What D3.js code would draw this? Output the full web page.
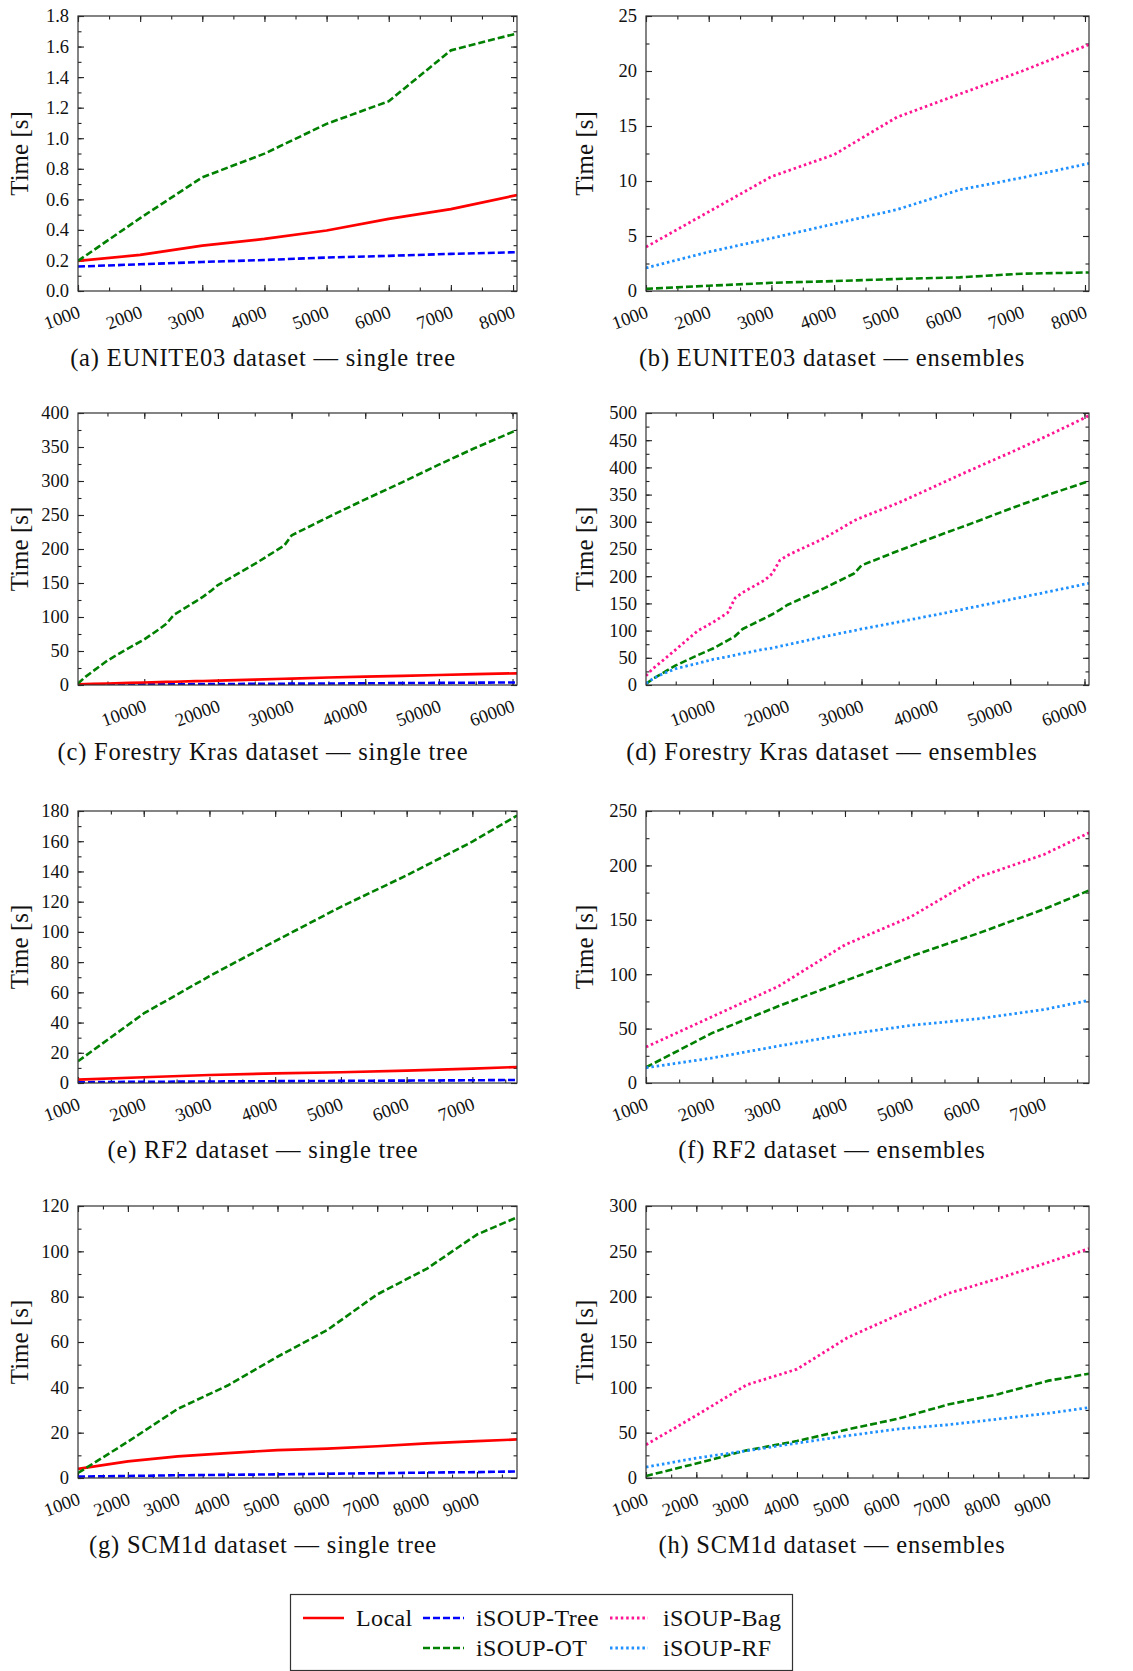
<!DOCTYPE html>
<html>
<head>
<meta charset="utf-8">
<script src="https://cdn.jsdelivr.net/npm/d3@7"></script>
<style>
  body { margin: 0; background: #fff; }
  svg { display: block; }
  text { font-family: "Liberation Serif", "DejaVu Serif", serif; fill: #111; }
</style>
</head>
<body>
<div id="chart"></div>
<script>
// ---- data ----
const seriesNames = ['Local', 'iSOUP-Tree', 'iSOUP-OT', 'iSOUP-Bag', 'iSOUP-RF'];

// EUNITE03
const euniteX     = [1000, 2000, 3000, 4000, 5000, 6000, 7000, 8064];
const euniteLocal = [0.197, 0.236, 0.297, 0.341, 0.396, 0.472, 0.536, 0.628];
const euniteTree  = [0.160, 0.175, 0.190, 0.203, 0.219, 0.230, 0.243, 0.254];
const euniteOT    = [0.197, 0.477, 0.744, 0.899, 1.094, 1.242, 1.575, 1.686];
const euniteBag   = [4.0, 7.2, 10.4, 12.4, 15.8, 17.9, 20.0, 22.4];
const euniteRF    = [2.1, 3.55, 4.8, 6.1, 7.4, 9.2, 10.3, 11.6];

// Forestry Kras
const krasX     = [1000, 2000, 3000, 5000, 8000, 10000, 12000, 13000, 14000, 17000, 18000, 19000, 20000, 25000, 29000, 30000, 35000, 40000, 45000, 50000, 55000, 60607];
const krasLocal = [1, 1.3, 1.6, 2.2, 3.1, 3.7, 4.2, 4.5, 4.8, 5.6, 5.9, 6.2, 6.5, 8, 9.2, 9.5, 11, 12.3, 13.5, 14.7, 15.9, 17.2];
const krasTree  = [0.3, 0.4, 0.5, 0.6, 0.8, 0.9, 1.0, 1.05, 1.1, 1.25, 1.3, 1.35, 1.4, 1.7, 1.9, 2.0, 2.2, 2.5, 2.8, 3.1, 3.4, 3.8];
const krasOT    = [2, 12, 20, 36, 55, 67, 82, 90, 103, 123, 130, 138, 147, 178, 205, 220, 247, 273, 298, 324, 349, 375];
const krasBag   = [17, 31, 42, 65, 100, 115, 133, 160, 170, 193, 205, 229, 238, 270, 302, 308, 335, 366, 397, 427, 458, 495];
const krasRF    = [3, 12, 19, 30, 40, 47, 52, 55, 58, 66, 68, 71, 74, 89, 100, 103, 116, 129, 143, 157, 171, 187];

// RF2
const rf2X     = [1000, 2000, 3000, 4000, 5000, 6000, 7000, 7679];
const rf2Local = [2.2, 3.8, 5.3, 6.4, 7.1, 8.2, 9.5, 10.6];
const rf2Tree  = [0.5, 0.8, 1.0, 1.2, 1.4, 1.6, 1.8, 2.0];
const rf2OT    = [14.4, 46, 70.7, 93.9, 116.6, 137.4, 159.7, 177];
const rf2Bag   = [33, 61, 89, 127, 153, 189, 210, 230];
const rf2RF    = [14, 23, 34, 44.5, 53, 59, 67.5, 76];

// SCM1d
const scmX     = [1000, 2000, 3000, 4000, 5000, 6000, 7000, 8000, 9000, 9803];
const scmLocal = [4, 7.3, 9.5, 11, 12.3, 13, 14, 15.3, 16.3, 17];
const scmTree  = [0.6, 0.9, 1.2, 1.4, 1.6, 1.9, 2.1, 2.4, 2.6, 2.9];
const scmOT    = [2.2, 16, 30.5, 40.8, 53.5, 65.3, 81, 92.4, 107.4, 115];
const scmBag   = [36.7, 69, 102.7, 120, 154.7, 179.7, 203.5, 220, 238, 253];
const scmRF    = [12, 22, 30, 38.5, 46.6, 54, 58.7, 65, 71.5, 77.7];

// tick labels
const euniteXTicks = [1000, 2000, 3000, 4000, 5000, 6000, 7000, 8000];
const krasXTicks   = [10000, 20000, 30000, 40000, 50000, 60000];
const rf2XTicks    = [1000, 2000, 3000, 4000, 5000, 6000, 7000];
const scmXTicks    = [1000, 2000, 3000, 4000, 5000, 6000, 7000, 8000, 9000];

const captions = [
  '(a) EUNITE03 dataset \u2014 single tree', '(b) EUNITE03 dataset \u2014 ensembles',
  '(c) Forestry Kras dataset \u2014 single tree', '(d) Forestry Kras dataset \u2014 ensembles',
  '(e) RF2 dataset \u2014 single tree', '(f) RF2 dataset \u2014 ensembles',
  '(g) SCM1d dataset \u2014 single tree', '(h) SCM1d dataset \u2014 ensembles'
];

// ---- styles ----
const styles = {
  'Local':      { color: '#ff0000', dash: null, width: 2.7 },
  'iSOUP-Tree': { color: '#0000ff', dash: '7,3', width: 2.6 },
  'iSOUP-OT':   { color: '#008000', dash: '7,3', width: 2.6 },
  'iSOUP-Bag':  { color: '#ff1493', dash: '2.5,2.9', width: 2.8 },
  'iSOUP-RF':   { color: '#1e90ff', dash: '2.5,2.9', width: 2.8 }
};

const W = 1133, H = 1671;
const FONT = '"Liberation Serif", serif';
const leftCol = { x0: 78, x1: 517 };
const rightCol = { x0: 646, x1: 1089 };
const rows = [
  { y0: 16, y1: 291 },
  { y0: 413, y1: 685 },
  { y0: 811, y1: 1083 },
  { y0: 1206, y1: 1478 }
];

const panels = [
  { x: euniteX, xMax: 8064, xTicks: euniteXTicks, xMinor: 500, yMax: 1.8, yStep: 0.2, yMinor: 0.1, fmt: d3.format('.1f'),
    lines: [['iSOUP-Tree', euniteTree], ['Local', euniteLocal], ['iSOUP-OT', euniteOT]] },
  { x: euniteX, xMax: 8064, xTicks: euniteXTicks, xMinor: 500, yMax: 25, yStep: 5, yMinor: 2.5, fmt: d3.format('d'),
    lines: [['iSOUP-OT', euniteOT], ['iSOUP-RF', euniteRF], ['iSOUP-Bag', euniteBag]] },
  { x: krasX, xMax: 60607, xTicks: krasXTicks, xMinor: 5000, yMax: 400, yStep: 50, yMinor: 25, fmt: d3.format('d'),
    lines: [['iSOUP-Tree', krasTree], ['Local', krasLocal], ['iSOUP-OT', krasOT]] },
  { x: krasX, xMax: 60607, xTicks: krasXTicks, xMinor: 5000, yMax: 500, yStep: 50, yMinor: 25, fmt: d3.format('d'),
    lines: [['iSOUP-OT', krasOT], ['iSOUP-RF', krasRF], ['iSOUP-Bag', krasBag]] },
  { x: rf2X, xMax: 7679, xTicks: rf2XTicks, xMinor: 500, yMax: 180, yStep: 20, yMinor: 10, fmt: d3.format('d'),
    lines: [['iSOUP-Tree', rf2Tree], ['Local', rf2Local], ['iSOUP-OT', rf2OT]] },
  { x: rf2X, xMax: 7679, xTicks: rf2XTicks, xMinor: 500, yMax: 250, yStep: 50, yMinor: 25, fmt: d3.format('d'),
    lines: [['iSOUP-OT', rf2OT], ['iSOUP-RF', rf2RF], ['iSOUP-Bag', rf2Bag]] },
  { x: scmX, xMax: 9803, xTicks: scmXTicks, xMinor: 500, yMax: 120, yStep: 20, yMinor: 10, fmt: d3.format('d'),
    lines: [['iSOUP-Tree', scmTree], ['Local', scmLocal], ['iSOUP-OT', scmOT]] },
  { x: scmX, xMax: 9803, xTicks: scmXTicks, xMinor: 500, yMax: 300, yStep: 50, yMinor: 25, fmt: d3.format('d'),
    lines: [['iSOUP-OT', scmOT], ['iSOUP-RF', scmRF], ['iSOUP-Bag', scmBag]] }
];

const svg = d3.select('#chart').append('svg')
  .attr('width', W).attr('height', H)
  .style('background', '#fff');

panels.forEach((p, i) => {
  const col = i % 2 === 0 ? leftCol : rightCol;
  const row = rows[Math.floor(i / 2)];
  const w = col.x1 - col.x0, h = row.y1 - row.y0;

  const xScale = d3.scaleLinear().domain([1000, p.xMax]).range([0, w]);
  const yScale = d3.scaleLinear().domain([0, p.yMax]).range([h, 0]);

  const g = svg.append('g').attr('transform', `translate(${col.x0},${row.y0})`);

  g.append('clipPath').attr('id', 'clip' + i)
    .append('rect').attr('width', w).attr('height', h);

  // major/minor tick values
  const yMajor = d3.range(0, p.yMax + 1e-9, p.yStep);
  const yMin = d3.range(0, p.yMax + 1e-9, p.yMinor);
  const xMin = d3.range(Math.ceil(1000 / p.xMinor) * p.xMinor, p.xMax + 1, p.xMinor);

  // inward ticks on all four sides via d3 axes
  const addAxis = (axis, tr) => {
    const a = g.append('g').attr('transform', tr).call(axis);
    a.select('.domain').remove();
    a.selectAll('line').attr('stroke', '#222').attr('stroke-width', 1.1);
    a.selectAll('text').remove();
  };
  addAxis(d3.axisBottom(xScale).tickValues(xMin).tickSize(-3.5), `translate(0,${h})`);
  addAxis(d3.axisTop(xScale).tickValues(xMin).tickSize(-3.5), 'translate(0,0)');
  addAxis(d3.axisBottom(xScale).tickValues(p.xTicks).tickSize(-6), `translate(0,${h})`);
  addAxis(d3.axisTop(xScale).tickValues(p.xTicks).tickSize(-6), 'translate(0,0)');
  addAxis(d3.axisLeft(yScale).tickValues(yMin).tickSize(-3.5), 'translate(0,0)');
  addAxis(d3.axisRight(yScale).tickValues(yMin).tickSize(-3.5), `translate(${w},0)`);
  addAxis(d3.axisLeft(yScale).tickValues(yMajor).tickSize(-6), 'translate(0,0)');
  addAxis(d3.axisRight(yScale).tickValues(yMajor).tickSize(-6), `translate(${w},0)`);

  // y tick labels
  const yAx = g.append('g').call(d3.axisLeft(yScale).tickValues(yMajor).tickFormat(p.fmt).tickSize(0).tickPadding(9));
  yAx.select('.domain').remove();
  yAx.selectAll('text')
    .style('font-family', FONT)
    .style('font-size', '18.5px').attr('fill', '#111');

  // rotated x tick labels
  const xAx = g.append('g').attr('transform', `translate(0,${h})`)
    .call(d3.axisBottom(xScale).tickValues(p.xTicks).tickFormat(d3.format('d')).tickSize(0));
  xAx.select('.domain').remove();
  xAx.selectAll('text')
    .style('font-family', FONT)
    .style('font-size', '18.5px').attr('fill', '#111')
    .attr('text-anchor', 'end')
    .attr('y', 0).attr('dy', 0)
    .attr('transform', 'translate(3,26) rotate(-20)');

  // series
  p.lines.forEach(([name, vals]) => {
    const st = styles[name];
    const pts = p.x.map((xv, k) => [xv, vals[k]]);
    const line = d3.line().x(d => xScale(d[0])).y(d => yScale(d[1]));
    g.append('path')
      .datum(pts)
      .attr('clip-path', `url(#clip${i})`)
      .attr('d', line)
      .attr('fill', 'none')
      .attr('stroke', st.color)
      .attr('stroke-width', st.width)
      .attr('stroke-dasharray', st.dash)
      .attr('stroke-linejoin', 'round');
  });

  // frame
  g.append('rect').attr('width', w).attr('height', h)
    .attr('fill', 'none').attr('stroke', '#333').attr('stroke-width', 1.2);

  // y label
  g.append('text')
    .attr('transform', `translate(${i % 2 === 0 ? -50 : -53},${h / 2}) rotate(-90)`)
    .attr('text-anchor', 'middle')
    .style('font-size', '25px')
    .text('Time [s]');

  // caption
  g.append('text')
    .attr('x', (i % 2 === 0 ? 263 : 832) - col.x0)
    .attr('y', h + 75)
    .attr('text-anchor', 'middle')
    .style('font-size', '24.5px')
    .style('letter-spacing', '0.8px')
    .text(captions[i]);
});

// legend
const legend = svg.append('g');
legend.append('rect')
  .attr('x', 290.5).attr('y', 1594.5).attr('width', 502).attr('height', 76)
  .attr('fill', '#fff').attr('stroke', '#333').attr('stroke-width', 1.2);

const legendPos = {
  'Local':      [303, 1618],
  'iSOUP-Tree': [423, 1618],
  'iSOUP-Bag':  [610, 1618],
  'iSOUP-OT':   [423, 1648],
  'iSOUP-RF':   [610, 1648]
};
seriesNames.forEach(name => {
  const st = styles[name];
  const [lx, ly] = legendPos[name];
  const len = name === 'iSOUP-Bag' || name === 'iSOUP-RF' ? 38 : 41;
  legend.append('line')
    .attr('x1', lx).attr('x2', lx + len).attr('y1', ly).attr('y2', ly)
    .attr('stroke', st.color)
    .attr('stroke-width', st.width)
    .attr('stroke-dasharray', st.dash);
  legend.append('text')
    .attr('x', lx + 53).attr('y', ly + 8)
    .style('font-size', '24px')
    .style('letter-spacing', '0.4px')
    .text(name);
});
</script>
</body>
</html>
